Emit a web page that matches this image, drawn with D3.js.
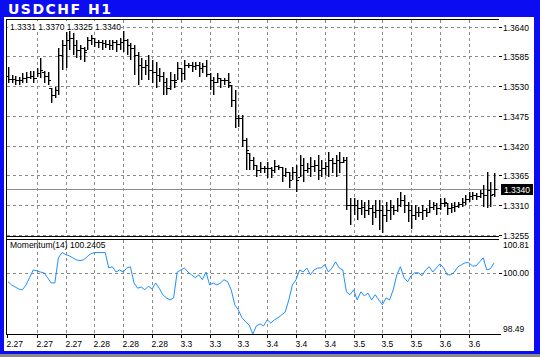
<!DOCTYPE html>
<html>
<head>
<meta charset="utf-8">
<script src="https://cdn.jsdelivr.net/npm/d3@7"></script>
<style>
html,body{margin:0;padding:0;background:#fff;overflow:hidden}
svg{display:block}
text{font-family:"Liberation Sans",Arial,sans-serif;font-size:8.5px;fill:#000}
</style>
</head>
<body>
<div id="chart"></div>
<script>
const title = "USDCHF H1";

// hourly bars
const openP = [1.3549,1.3543,1.3543,1.3541,1.3541,1.3545,1.3547,1.3549,1.3545,1.3554,
 1.3556,1.3549,1.3527,1.3514,1.3523,1.3588,1.3606,1.3615,1.3619,1.3606,
 1.3597,1.3601,1.3597,1.3615,1.3619,1.3612,1.3612,1.3610,1.3608,1.3606,
 1.3612,1.3608,1.3612,1.3615,1.3606,1.3601,1.3588,1.3569,1.3565,1.3569,
 1.3560,1.3556,1.3551,1.3549,1.3538,1.3527,1.3541,1.3541,1.3564,1.3554,
 1.3569,1.3569,1.3567,1.3569,1.3564,1.3567,1.3553,1.3541,1.3538,1.3545,
 1.3541,1.3541,1.3532,1.3504,1.3471,1.3471,1.3431,1.3406,1.3394,1.3384,
 1.3375,1.3379,1.3379,1.3379,1.3375,1.3382,1.3381,1.3366,1.3371,1.3357,
 1.3371,1.3362,1.3384,1.3375,1.3379,1.3382,1.3384,1.3375,1.3379,1.3382,
 1.3394,1.3388,1.3394,1.3390,1.3394,1.3310,1.3310,1.3310,1.3304,1.3306,
 1.3301,1.3304,1.3297,1.3301,1.3301,1.3292,1.3301,1.3306,1.3301,1.3310,
 1.3320,1.3310,1.3301,1.3292,1.3297,1.3297,1.3301,1.3297,1.3306,1.3310,
 1.3304,1.3314,1.3314,1.3304,1.3306,1.3308,1.3312,1.3316,1.3321,1.3327,
 1.3329,1.3327,1.3332,1.3329,1.3338,1.3331];
const highP = [1.3565,1.3551,1.3549,1.3547,1.3554,1.3556,1.3558,1.3558,1.3564,1.3582,
 1.3558,1.3556,1.3527,1.3529,1.3601,1.3615,1.3630,1.3634,1.3628,1.3615,
 1.3606,1.3602,1.3621,1.3625,1.3619,1.3615,1.3615,1.3615,1.3615,1.3615,
 1.3615,1.3619,1.3632,1.3617,1.3610,1.3606,1.3593,1.3582,1.3578,1.3588,
 1.3578,1.3575,1.3564,1.3556,1.3545,1.3556,1.3553,1.3575,1.3564,1.3578,
 1.3573,1.3575,1.3575,1.3575,1.3573,1.3578,1.3554,1.3547,1.3554,1.3545,
 1.3545,1.3554,1.3532,1.3523,1.3477,1.3477,1.3434,1.3406,1.3399,1.3384,
 1.3390,1.3382,1.3390,1.3381,1.3394,1.3384,1.3381,1.3379,1.3371,1.3381,
 1.3384,1.3403,1.3397,1.3388,1.3399,1.3394,1.3403,1.3394,1.3390,1.3408,
 1.3397,1.3403,1.3408,1.3399,1.3399,1.3323,1.3323,1.3320,1.3320,1.3316,
 1.3320,1.3310,1.3320,1.3320,1.3310,1.3316,1.3320,1.3310,1.3323,1.3334,
 1.3329,1.3316,1.3310,1.3310,1.3306,1.3310,1.3304,1.3320,1.3316,1.3314,
 1.3323,1.3323,1.3314,1.3314,1.3316,1.3316,1.3323,1.3329,1.3334,1.3334,
 1.3332,1.3338,1.3347,1.3371,1.3353,1.3370];
const lowP = [1.3536,1.3536,1.3532,1.3532,1.3536,1.3536,1.3543,1.3536,1.3547,1.3545,
 1.3536,1.3532,1.3499,1.3508,1.3514,1.3560,1.3564,1.3597,1.3588,1.3582,
 1.3578,1.3575,1.3597,1.3606,1.3602,1.3601,1.3597,1.3601,1.3597,1.3597,
 1.3593,1.3597,1.3593,1.3588,1.3578,1.3551,1.3532,1.3541,1.3551,1.3541,
 1.3536,1.3527,1.3538,1.3514,1.3514,1.3523,1.3527,1.3541,1.3538,1.3541,
 1.3564,1.3556,1.3560,1.3547,1.3554,1.3547,1.3523,1.3514,1.3536,1.3527,
 1.3532,1.3527,1.3491,1.3453,1.3455,1.3418,1.3375,1.3375,1.3375,1.3362,
 1.3369,1.3369,1.3360,1.3360,1.3369,1.3375,1.3353,1.3362,1.3342,1.3357,
 1.3334,1.3362,1.3353,1.3369,1.3362,1.3371,1.3357,1.3362,1.3366,1.3362,
 1.3369,1.3362,1.3369,1.3388,1.3301,1.3273,1.3292,1.3282,1.3292,1.3286,
 1.3292,1.3273,1.3286,1.3264,1.3258,1.3279,1.3282,1.3292,1.3297,1.3306,
 1.3295,1.3279,1.3267,1.3282,1.3288,1.3282,1.3288,1.3295,1.3301,1.3292,
 1.3301,1.3306,1.3292,1.3295,1.3297,1.3304,1.3306,1.3310,1.3316,1.3320,
 1.3320,1.3323,1.3306,1.3304,1.3306,1.3325];
const closeP = [1.3543,1.3543,1.3541,1.3541,1.3545,1.3547,1.3549,1.3545,1.3554,1.3560,
 1.3549,1.3541,1.3514,1.3523,1.3588,1.3606,1.3615,1.3619,1.3606,1.3597,
 1.3601,1.3593,1.3615,1.3619,1.3612,1.3612,1.3610,1.3608,1.3606,1.3612,
 1.3608,1.3612,1.3615,1.3606,1.3601,1.3588,1.3569,1.3565,1.3569,1.3560,
 1.3556,1.3551,1.3549,1.3538,1.3527,1.3541,1.3538,1.3564,1.3554,1.3569,
 1.3569,1.3567,1.3569,1.3564,1.3567,1.3553,1.3541,1.3538,1.3545,1.3541,
 1.3541,1.3538,1.3504,1.3471,1.3471,1.3431,1.3412,1.3394,1.3384,1.3375,
 1.3379,1.3379,1.3379,1.3375,1.3382,1.3381,1.3366,1.3371,1.3357,1.3371,
 1.3357,1.3384,1.3375,1.3379,1.3382,1.3384,1.3375,1.3379,1.3382,1.3394,
 1.3388,1.3394,1.3390,1.3394,1.3310,1.3310,1.3310,1.3304,1.3306,1.3301,
 1.3304,1.3297,1.3301,1.3301,1.3292,1.3301,1.3306,1.3301,1.3310,1.3320,
 1.3310,1.3301,1.3292,1.3297,1.3297,1.3301,1.3297,1.3306,1.3310,1.3304,
 1.3314,1.3316,1.3304,1.3306,1.3308,1.3312,1.3316,1.3321,1.3327,1.3329,
 1.3327,1.3332,1.3329,1.3338,1.3329,1.3340];

// Momentum(14)
const momentum = [99.78,99.70,99.65,99.60,99.58,99.70,99.88,100.07,100.05,100.02,
 100.00,99.88,99.75,99.75,100.37,100.50,100.45,100.42,100.37,100.32,
 100.30,100.32,100.40,100.47,100.50,100.50,100.50,100.50,100.12,100.15,
 100.02,100.07,100.02,100.12,100.15,99.75,99.62,99.65,99.58,99.67,
 99.60,99.75,99.62,99.46,99.38,99.33,99.38,100.02,100.07,100.12,
 100.02,99.95,99.88,99.95,99.83,100.02,99.70,99.75,99.70,99.75,
 99.83,99.78,99.58,99.21,99.08,98.89,98.79,98.71,98.49,98.69,
 98.74,98.69,98.84,98.76,98.84,98.89,98.96,99.03,99.33,99.70,
 99.83,100.07,100.02,100.12,99.95,100.07,100.12,100.12,100.20,100.02,
 100.12,100.27,100.12,100.07,99.53,99.46,99.58,99.33,99.53,99.43,
 99.50,99.33,99.46,99.33,99.21,99.38,99.33,99.58,99.95,100.15,
 99.88,99.78,99.93,100.00,100.00,99.93,100.07,100.15,100.02,100.12,
 100.22,100.12,99.95,99.95,100.02,100.15,100.20,100.25,100.25,100.17,
 100.17,100.27,100.37,100.07,100.10,100.2405];

const dateLabels = ["2.27","2.27","2.27","2.28","2.28","2.28","3.3","3.3","3.3",
 "3.4","3.4","3.4","3.5","3.5","3.5","3.6","3.6"];
const barsPerLabel = 8;
const priceTicks = [1.3640,1.3585,1.3530,1.3475,1.3420,1.3365,1.3310,1.3255];
const momTicks = [100.81,100.00,98.49];
const momLevel = 100;

const width = 540, height = 357;
const plotL = 7, plotR = 499;
const mainTop = 20, mainBot = 236;
const subTop = 240, subBot = 334;
const gridCol = "#8a8a8a";

const svg = d3.select("#chart").append("svg")
  .attr("width", width).attr("height", height);

// window frame
svg.append("rect").attr("width", width).attr("height", height).attr("fill", "#0c0cf2");
svg.append("rect").attr("x", 0).attr("y", 354).attr("width", width).attr("height", 3).attr("fill", "#8a8a8a");
svg.append("rect").attr("x", 4).attr("y", 17).attr("width", 530).attr("height", 334).attr("fill", "#fff");
svg.append("text").attr("x", 8).attr("y", 14)
  .style("font-family", "'DejaVu Sans',Verdana,sans-serif")
  .style("font-size", "14px").style("font-weight", "bold")
  .style("letter-spacing", "1.5px").style("fill", "#fff")
  .text(title);

const n = closeP.length;
const x = d3.scaleLinear().domain([0, n - 1]).range([8, 494]);
const y = d3.scaleLinear().domain([1.3255, 1.3640]).range([235, 26.7]);
const ym = d3.scaleLinear().domain([98.49, 100.81]).range([subBot, subTop]);

const px = v => Math.round(v) + 0.5;

// grid
const grid = svg.append("g").attr("stroke", gridCol).attr("stroke-dasharray", "3,3").attr("stroke-width", 1);
d3.range(1, dateLabels.length).forEach(k => {
  const gx = px(x(k * barsPerLabel));
  grid.append("line").attr("x1", gx).attr("x2", gx).attr("y1", mainTop).attr("y2", mainBot);
  grid.append("line").attr("x1", gx).attr("x2", gx).attr("y1", subTop).attr("y2", subBot);
});
priceTicks.forEach(p => {
  grid.append("line").attr("x1", plotL).attr("x2", plotR).attr("y1", px(y(p))).attr("y2", px(y(p)));
});
grid.append("line").attr("x1", plotL).attr("x2", plotR).attr("y1", px(ym(momLevel))).attr("y2", px(ym(momLevel)));

// current price line
const lastY = px(y(closeP[n - 1]));
svg.append("line").attr("x1", plotL).attr("x2", plotR).attr("y1", lastY).attr("y2", lastY)
  .attr("stroke", "#8c8c8c").attr("stroke-width", 1);

// OHLC bars
const bars = svg.append("g").attr("fill", "#000");
d3.range(n).forEach(i => {
  const cx = Math.round(x(i));
  const yh = Math.round(y(highP[i])), yl = Math.round(y(lowP[i]));
  bars.append("rect").attr("x", cx).attr("y", yh).attr("width", 1.4).attr("height", Math.max(1, yl - yh));
  bars.append("rect").attr("x", cx - 2).attr("y", Math.round(y(openP[i]))).attr("width", 2).attr("height", 1);
  bars.append("rect").attr("x", cx + 1).attr("y", Math.round(y(closeP[i]))).attr("width", 2).attr("height", 1);
});

// momentum line
svg.append("path").datum(momentum)
  .attr("fill", "none").attr("stroke", "#1e8fff").attr("stroke-width", 1)
  .attr("d", d3.line().x((d, i) => x(i)).y(d => ym(d)));

// frame lines
const frame = svg.append("g").attr("stroke", "#000").attr("stroke-width", 1);
frame.append("line").attr("x1", 6).attr("x2", plotR).attr("y1", 19.5).attr("y2", 19.5);
frame.append("line").attr("x1", 6.5).attr("x2", 6.5).attr("y1", 19).attr("y2", subBot + 1);
frame.append("line").attr("x1", 6).attr("x2", plotR).attr("y1", 236.5).attr("y2", 236.5);
frame.append("line").attr("x1", 6).attr("x2", plotR).attr("y1", 239.5).attr("y2", 239.5);
frame.append("line").attr("x1", 6).attr("x2", plotR + 2).attr("y1", subBot + 0.5).attr("y2", subBot + 0.5);

// price axis (right)
const pAxis = svg.append("g");
priceTicks.forEach(p => {
  const ty = px(y(p));
  pAxis.append("line").attr("x1", plotR).attr("x2", plotR + 3).attr("y1", ty).attr("y2", ty).attr("stroke", "#000");
  pAxis.append("text").attr("x", plotR + 4).attr("y", ty + 3).text(d3.format(".4f")(p));
});
// last price box
const fmt4 = d3.format(".4f");
svg.append("rect").attr("x", plotR + 2).attr("y", lastY - 5.5).attr("width", 32).attr("height", 11).attr("fill", "#000");
svg.append("text").attr("x", plotR + 5).attr("y", lastY + 3.5).style("fill", "#fff").text(fmt4(closeP[n - 1]));

// momentum axis labels
momTicks.forEach((m, k) => {
  const ty = ym(m);
  const off = k === 0 ? 8 : (k === momTicks.length - 1 ? -2 : 3);
  if (k === 1) svg.append("line").attr("x1", plotR).attr("x2", plotR + 3).attr("y1", px(ty)).attr("y2", px(ty)).attr("stroke", "#000");
  svg.append("text").attr("x", plotR + 4).attr("y", ty + off).text(d3.format(".2f")(m));
});

// time axis
const tAxis = svg.append("g");
dateLabels.forEach((lab, k) => {
  const tx = px(x(k * barsPerLabel)) - (k === 0 ? 1 : 0);
  tAxis.append("line").attr("x1", tx).attr("x2", tx).attr("y1", subBot).attr("y2", subBot + 4).attr("stroke", "#000");
  tAxis.append("text").attr("x", tx - 1).attr("y", subBot + 13).text(lab);
});

// info texts
const info = [openP[n - 1], highP[n - 1], lowP[n - 1], closeP[n - 1]].map(fmt4).join(" ");
svg.append("rect").attr("x", 8).attr("y", 21).attr("width", 112).attr("height", 10).attr("fill", "#fff");
svg.append("text").attr("x", 10).attr("y", 29.5).text(info);
svg.append("text").attr("x", 10).attr("y", 248).text("Momentum(14) " + d3.format(".4f")(momentum[n - 1]));
</script>
</body>
</html>
